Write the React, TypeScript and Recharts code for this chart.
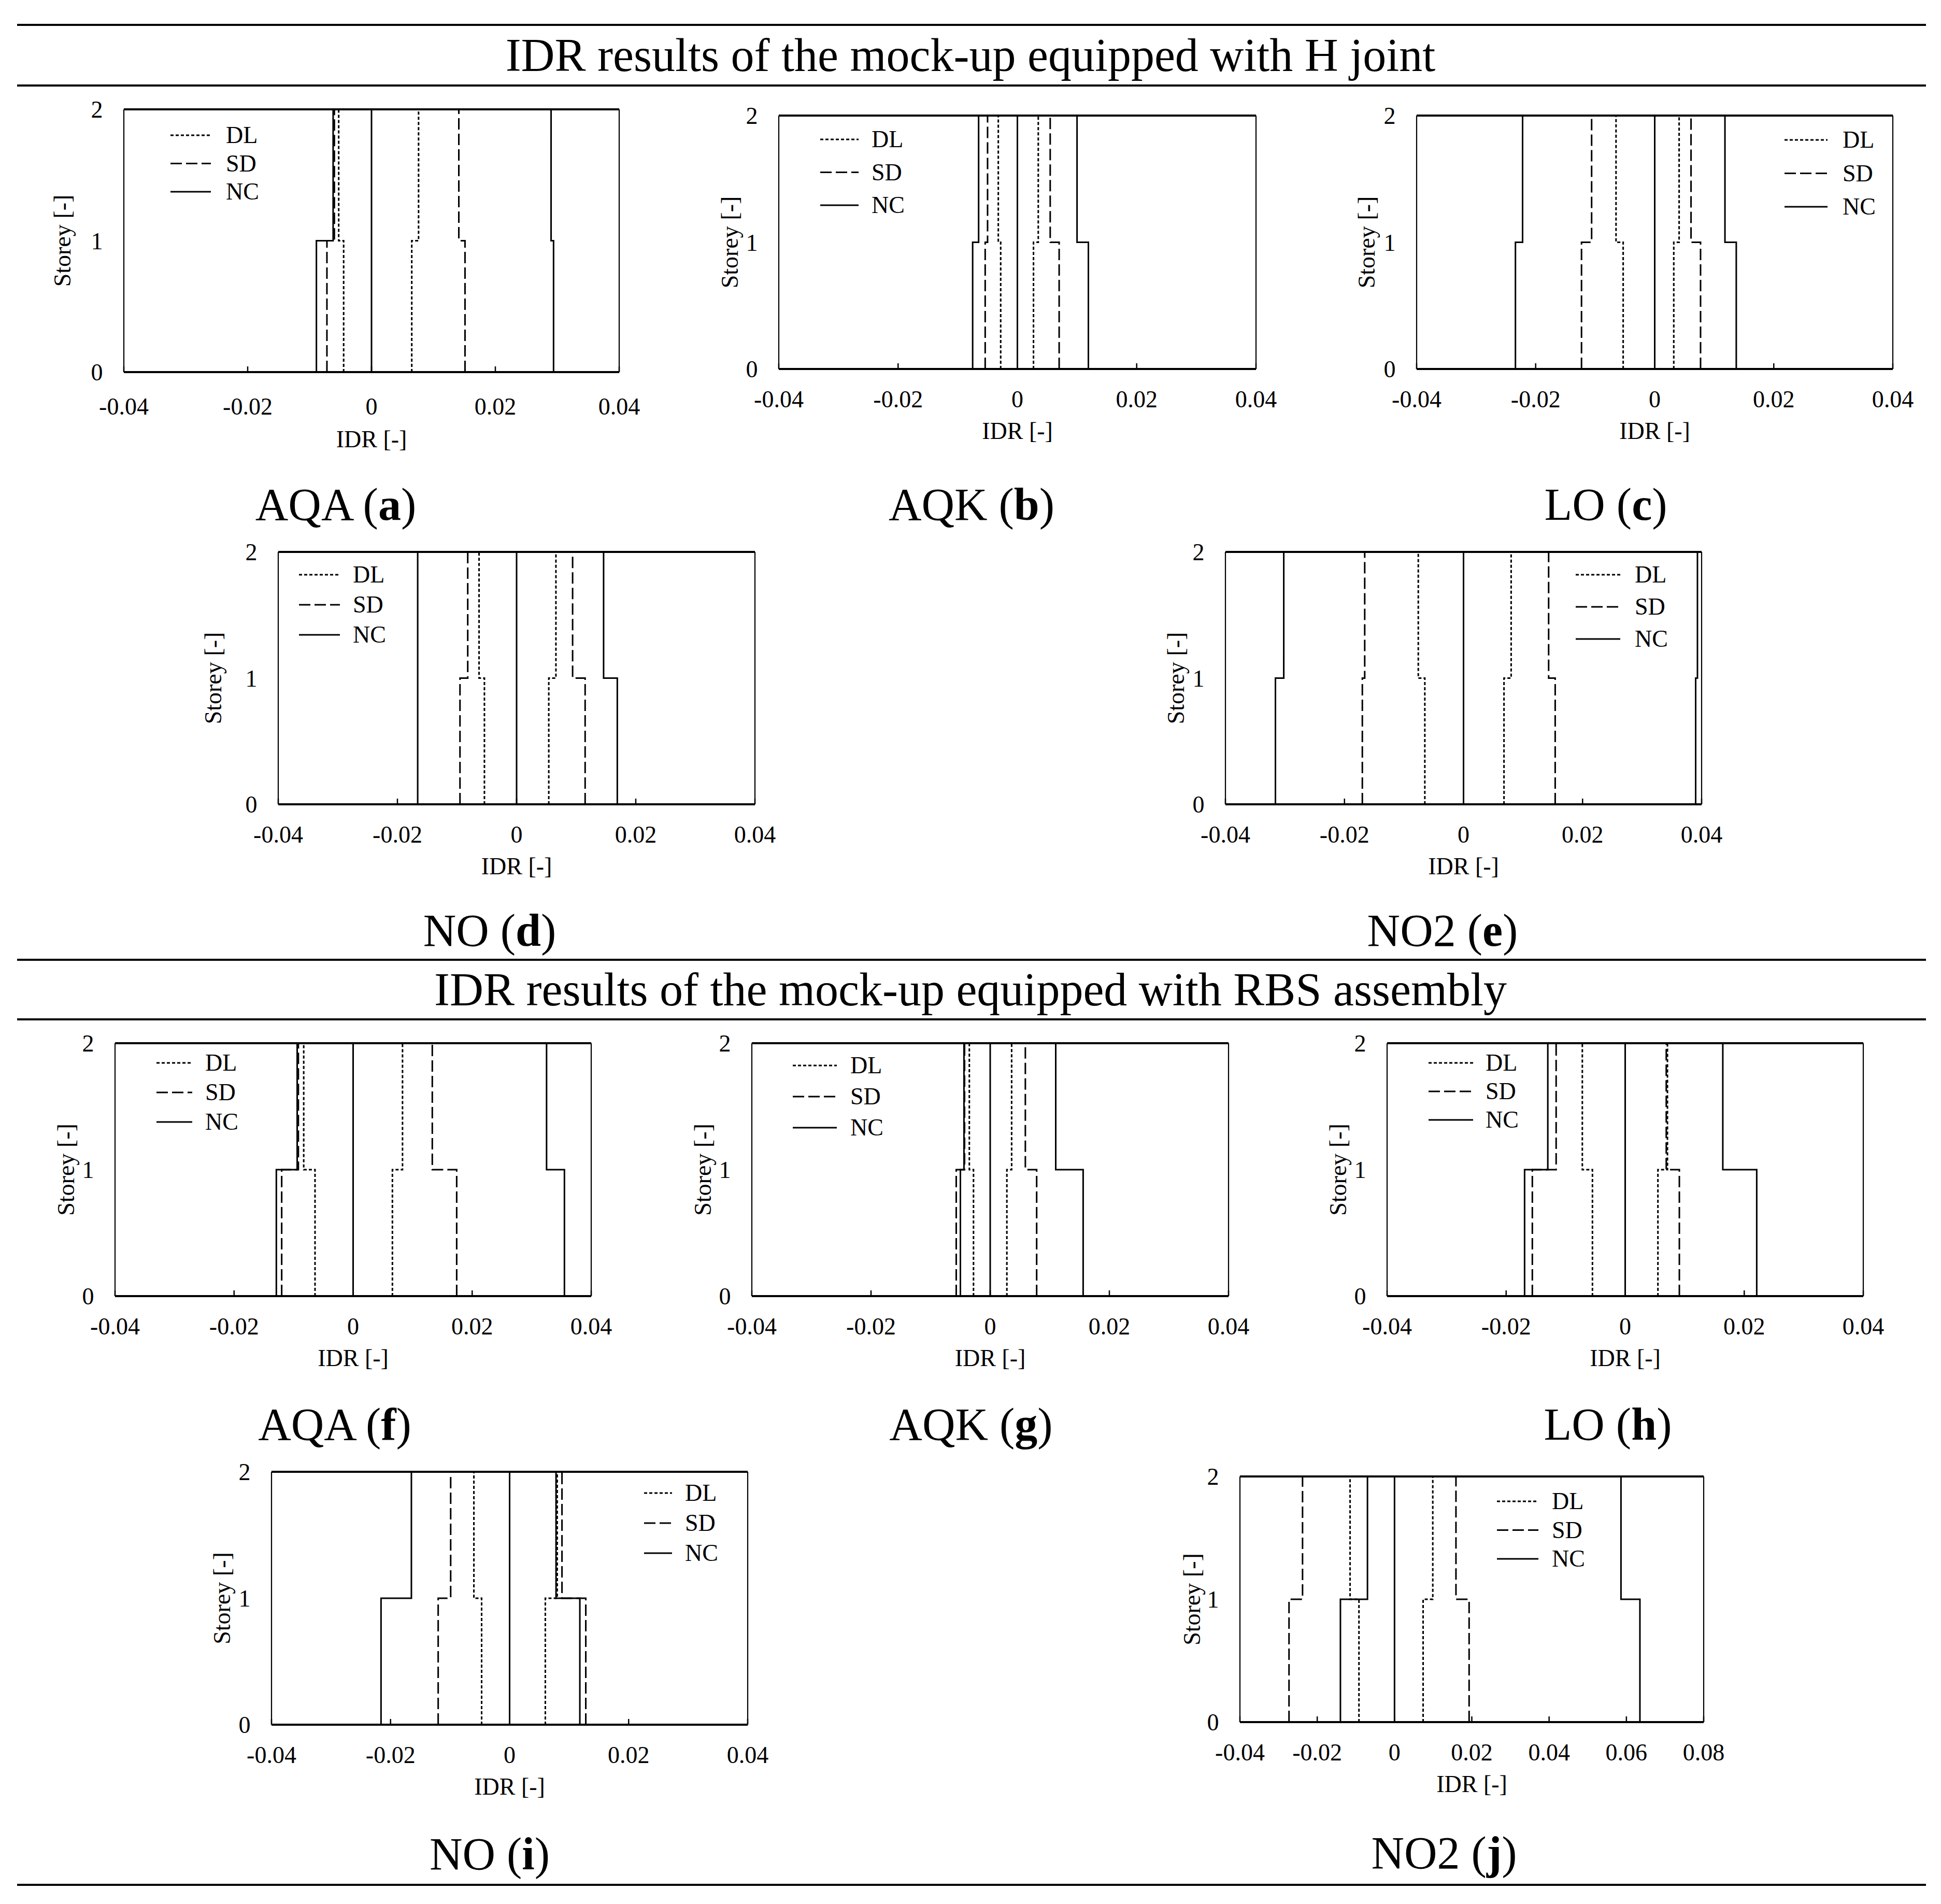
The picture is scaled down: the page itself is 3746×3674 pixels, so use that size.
import React from 'react'
import { LineChart, Line, XAxis, YAxis, ReferenceLine, Legend } from 'recharts'

const SERIF = "'Liberation Serif', 'Times New Roman', serif"
const FS = 46

// axes
const storeys = [0, 1, 2]
const idrTicks = [-0.04, -0.02, 0, 0.02, 0.04]
const idrTicksWide = [-0.04, -0.02, 0, 0.02, 0.04, 0.06, 0.08]
const seriesNames = ['DL', 'SD', 'NC']

// every array: [neg. storey 1, neg. storey 2, pos. storey 1, pos. storey 2]
// H joint
const aqaH_DL = [-0.0045, -0.0053, 0.0065, 0.0076]
const aqaH_SD = [-0.0072, -0.006, 0.0151, 0.0141]
const aqaH_NC = [-0.0089, -0.0062, 0.0294, 0.029]
const aqkH_DL = [-0.0028, -0.0032, 0.0027, 0.0035]
const aqkH_SD = [-0.0054, -0.005, 0.007, 0.0055]
const aqkH_NC = [-0.0075, -0.0065, 0.0119, 0.01]
const loH_DL = [-0.0053, -0.0065, 0.0032, 0.0041]
const loH_SD = [-0.0123, -0.0106, 0.0077, 0.0061]
const loH_NC = [-0.0234, -0.0222, 0.0137, 0.0118]
const noH_DL = [-0.0054, -0.0063, 0.0054, 0.0066]
const noH_SD = [-0.0095, -0.0082, 0.0115, 0.0094]
const noH_NC = [-0.0166, -0.0166, 0.0169, 0.0146]
const no2H_DL = [-0.0065, -0.0076, 0.0068, 0.008]
const no2H_SD = [-0.017, -0.0166, 0.0154, 0.0143]
const no2H_NC = [-0.0316, -0.0302, 0.039, 0.0393]
// RBS assembly
const aqaR_DL = [-0.0064, -0.0083, 0.0066, 0.0083]
const aqaR_SD = [-0.012, -0.0092, 0.0174, 0.0133]
const aqaR_NC = [-0.0129, -0.0094, 0.0355, 0.0325]
const aqkR_DL = [-0.0028, -0.0035, 0.0028, 0.0036]
const aqkR_SD = [-0.0057, -0.0043, 0.0078, 0.0059]
const aqkR_NC = [-0.005, -0.0044, 0.0156, 0.011]
const loR_DL = [-0.0055, -0.0072, 0.0055, 0.0071]
const loR_SD = [-0.0156, -0.0116, 0.0091, 0.0069]
const loR_NC = [-0.0169, -0.013, 0.0221, 0.0164]
const noR_DL = [-0.0047, -0.006, 0.006, 0.008]
const noR_SD = [-0.012, -0.0099, 0.0128, 0.0088]
const noR_NC = [-0.0216, -0.0165, 0.0118, 0.0078]
const no2R_DL = [-0.0092, -0.0115, 0.0074, 0.0099]
const no2R_SD = [-0.0273, -0.0238, 0.0193, 0.0159]
const no2R_NC = [-0.014, -0.007, 0.0635, 0.0586]

const dashes: Record<string, string | undefined> = { DL: '6 4', SD: '22 8', NC: undefined }

// chart frame around each plot area
const YW = 170
const MT = 24
const MR = 80
const XH = 170

// plot = [left, top, right, bottom] on the page, lg = legend placement inside the plot
const panels = [
  { name: 'AQA', letter: 'a', series: [aqaH_DL, aqaH_SD, aqaH_NC], ticks: idrTicks, plot: [239, 211, 1195, 718], lg: [90, 168, 197, 50, 54.5], yGap: 118, tickDy: 82, labelDy: 145, cap: [648, 1003] },
  { name: 'AQK', letter: 'b', series: [aqkH_DL, aqkH_SD, aqkH_NC], ticks: idrTicks, plot: [1503, 223, 2424, 712], lg: [80, 154, 179, 46, 63.5], yGap: 94, tickDy: 74, labelDy: 135, cap: [1875, 1003] },
  { name: 'LO', letter: 'c', series: [loH_DL, loH_SD, loH_NC], ticks: idrTicks, plot: [2734, 223, 3653, 712], lg: [710, 793, 822, 47, 64.5], yGap: 96, tickDy: 74, labelDy: 135, cap: [3099, 1003] },
  { name: 'NO', letter: 'd', series: [noH_DL, noH_SD, noH_NC], ticks: idrTicks, plot: [537, 1065, 1457, 1552], lg: [40, 119, 144, 43.5, 58], yGap: 125, tickDy: 74, labelDy: 135, cap: [945, 1825] },
  { name: 'NO2', letter: 'e', series: [no2H_DL, no2H_SD, no2H_NC], ticks: idrTicks, plot: [2365, 1065, 3284, 1552], lg: [676, 762, 790, 43.5, 62], yGap: 95, tickDy: 74, labelDy: 135, cap: [2784, 1825] },
  { name: 'AQA', letter: 'f', series: [aqaR_DL, aqaR_SD, aqaR_NC], ticks: idrTicks, plot: [222, 2013, 1141, 2501], lg: [80, 149, 174, 37.5, 57], yGap: 94, tickDy: 74, labelDy: 135, cap: [646, 2778] },
  { name: 'AQK', letter: 'g', series: [aqkR_DL, aqkR_SD, aqkR_NC], ticks: idrTicks, plot: [1451, 2013, 2371, 2501], lg: [79, 164, 190, 43, 60], yGap: 94, tickDy: 74, labelDy: 135, cap: [1874, 2778] },
  { name: 'LO', letter: 'h', series: [loR_DL, loR_SD, loR_NC], ticks: idrTicks, plot: [2677, 2013, 3596, 2501], lg: [80, 166, 190, 37.5, 55], yGap: 94, tickDy: 74, labelDy: 135, cap: [3103, 2778] },
  { name: 'NO', letter: 'i', series: [noR_DL, noR_SD, noR_NC], ticks: idrTicks, plot: [524, 2840, 1443, 3328], lg: [719, 773, 798, 41, 58], yGap: 95, tickDy: 74, labelDy: 135, cap: [945, 3607] },
  { name: 'NO2', letter: 'j', series: [no2R_DL, no2R_SD, no2R_NC], ticks: idrTicksWide, plot: [2393, 2849, 3288, 3323], lg: [496, 576, 602, 48, 55.5], yGap: 92, tickDy: 74, labelDy: 135, cap: [2787, 3605] },
]

// vertical step profile: one value per storey
function stepPoints(s1: number, s2: number) {
  return [
    { idr: s1, storey: storeys[0] },
    { idr: s1, storey: storeys[1] },
    { idr: s2, storey: storeys[1] },
    { idr: s2, storey: storeys[2] },
  ]
}

function LegendBox({ payload, lg }: any) {
  const [x0, x1, tx, , step] = lg
  const names = (payload || []).map((e: any) => e.value)
  const items = seriesNames.filter((n) => names.includes(n))
  return (
    <svg width={360} height={step * 3 + 60} style={{ overflow: 'visible', display: 'block' }}>
      {items.map((name, i) => (
        <g key={name}>
          <line x1={5} x2={5 + x1 - x0} y1={35 + i * step} y2={35 + i * step} stroke="#000" strokeWidth={3} strokeDasharray={dashes[name]} />
          <text x={5 + tx - x0} y={35 + i * step + 15} fontSize={FS} fontFamily={SERIF} fill="#000">{name}</text>
        </g>
      ))}
    </svg>
  )
}

function Panel({ p }: any) {
  const [L, T, R, B] = p.plot
  const plotW = R - L
  const plotH = B - T
  const W = YW + plotW + MR
  const H = MT + plotH + XH
  const domain = [p.ticks[0], p.ticks[p.ticks.length - 1]]
  const axisY = MT + plotH

  const xTick = (props: any) => (
    <g>
      <line x1={props.x} x2={props.x} y1={axisY} y2={axisY - 11} stroke="#000" strokeWidth={2.5} />
      <text x={props.x} y={axisY + p.tickDy} textAnchor="middle" fontSize={FS} fontFamily={SERIF} fill="#000">
        {String(props.payload.value)}
      </text>
    </g>
  )
  const yTick = (props: any) => (
    <text x={YW - 52} y={props.y} dy="0.35em" textAnchor="middle" fontSize={FS} fontFamily={SERIF} fill="#000">
      {props.payload.value}
    </text>
  )
  const xLabel = () => (
    <text x={YW + plotW / 2} y={axisY + p.labelDy} textAnchor="middle" fontSize={FS} fontFamily={SERIF} fill="#000">IDR [-]</text>
  )
  const yLabel = () => (
    <text transform={`translate(${YW - p.yGap + 15}, ${MT + plotH / 2}) rotate(-90)`} textAnchor="middle" fontSize={FS} fontFamily={SERIF} fill="#000">Storey [-]</text>
  )

  const lines = seriesNames.flatMap((name, i) => {
    const v = p.series[i]
    const common = {
      type: 'linear' as const,
      dataKey: 'storey',
      stroke: '#000',
      strokeWidth: 3,
      strokeDasharray: dashes[name],
      dot: false,
      activeDot: false,
      isAnimationActive: false,
    }
    return [
      <Line key={name + '-neg'} {...common} name={name} data={stepPoints(v[0], v[1])} />,
      <Line key={name + '-pos'} {...common} name={name + ' +'} legendType="none" data={stepPoints(v[2], v[3])} />,
    ]
  })

  return (
    <div style={{ position: 'absolute', left: L - YW, top: T - MT, width: W, height: H }}>
      <LineChart width={W} height={H} margin={{ top: MT, right: MR, bottom: 0, left: 0 }}>
        <XAxis
          type="number"
          dataKey="idr"
          domain={domain}
          ticks={p.ticks}
          interval={0}
          allowDataOverflow
          height={XH}
          tickLine={false}
          tickSize={0}
          tickMargin={0}
          tick={xTick}
          axisLine={{ stroke: '#000', strokeWidth: 4 }}
          label={xLabel}
        />
        <YAxis
          type="number"
          dataKey="storey"
          domain={[0, 2]}
          ticks={storeys}
          interval={0}
          width={YW}
          tickLine={false}
          tick={yTick}
          axisLine={{ stroke: '#000', strokeWidth: 2.2 }}
          label={yLabel}
        />
        <ReferenceLine y={2} stroke="#000" strokeWidth={4} />
        <ReferenceLine x={domain[1]} stroke="#000" strokeWidth={2.2} />
        <ReferenceLine x={0} stroke="#000" strokeWidth={3} />
        {lines}
        <Legend
          layout="vertical"
          align="center"
          verticalAlign="middle"
          wrapperStyle={{ left: YW + p.lg[0] - 5, top: MT + p.lg[3] - 35, width: 360, height: p.lg[4] * 3 + 60 }}
          content={(props: any) => <LegendBox payload={props.payload} lg={p.lg} />}
        />
      </LineChart>
    </div>
  )
}

const rules = [48, 165, 1852, 1967, 3637]

export default function App() {
  return (
    <div style={{ position: 'absolute', left: 0, top: 0, width: 3746, height: 3674, background: '#fff' }}>
      <svg width={3746} height={3674} style={{ position: 'absolute', left: 0, top: 0 }}>
        {rules.map((y) => (
          <line key={y} x1={33} x2={3717} y1={y} y2={y} stroke="#000" strokeWidth={4} />
        ))}
        <text x={1873} y={137} textAnchor="middle" fontSize={90} fontFamily={SERIF} fill="#000">
          IDR results of the mock-up equipped with H joint
        </text>
        <text x={1873} y={1940} textAnchor="middle" fontSize={90} fontFamily={SERIF} fill="#000">
          IDR results of the mock-up equipped with RBS assembly
        </text>
        {panels.map((p) => (
          <text key={p.letter} x={p.cap[0]} y={p.cap[1]} textAnchor="middle" fontSize={88} fontFamily={SERIF} fill="#000">
            {p.name} (<tspan fontWeight="bold">{p.letter}</tspan>)
          </text>
        ))}
      </svg>
      {panels.map((p) => (
        <Panel key={p.letter} p={p} />
      ))}
    </div>
  )
}
